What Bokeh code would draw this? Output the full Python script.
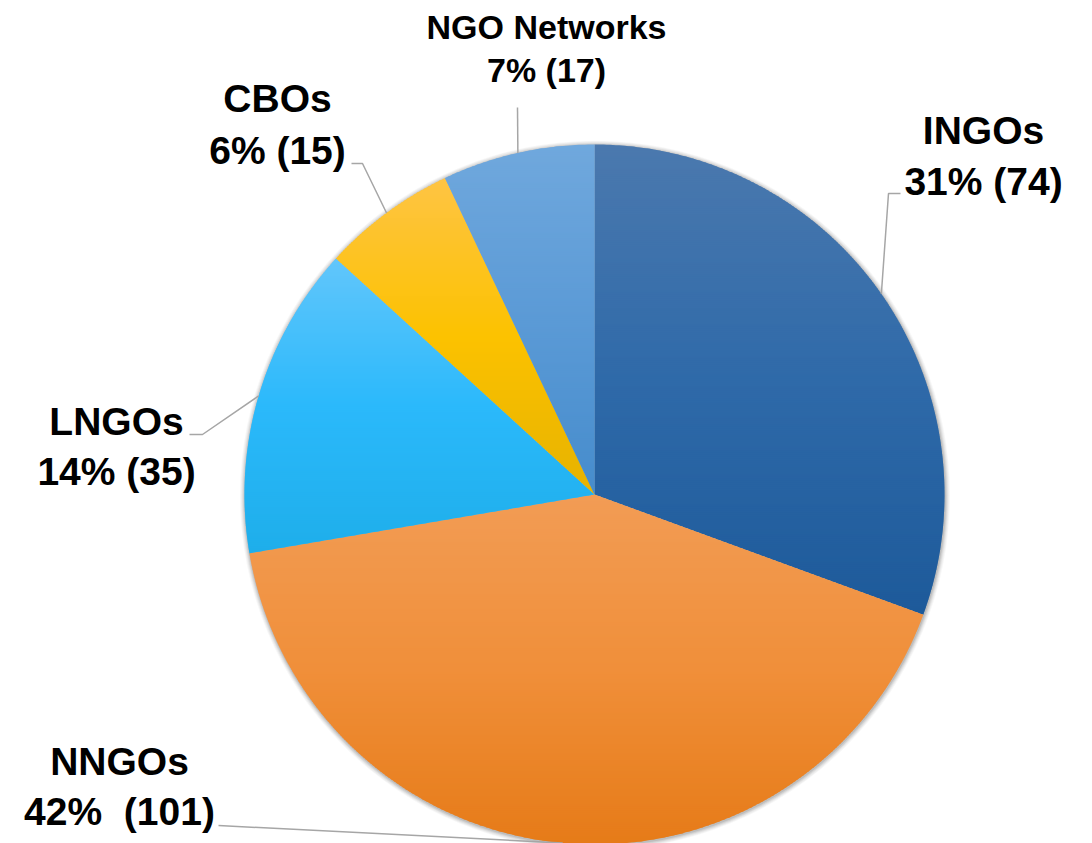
import numpy as np
from bokeh.plotting import figure
from bokeh.models import Range1d
from bokeh.core.properties import value
from bokeh.embed import file_html
from bokeh.resources import INLINE

# ---- data ----
categories = ["INGOs", "NNGOs", "LNGOs", "CBOs", "NGO Networks"]
counts = [74, 101, 35, 15, 17]
pct_gap = [" ", " \u00a0", " ", " ", " "]

# gradient colours per slice (top, middle, bottom)
top_colors = ["#4b79ae", "#f29c55", "#62c6fb", "#fec444", "#70a8dd"]
mid_colors = ["#2f6aa9", "#f08f3a", "#2bb9fb", "#fcc200", "#5b9ad6"]
bot_colors = ["#1d5a9a", "#e67b18", "#1eaeea", "#e6b200", "#468ccc"]

# ---- layout ----
W, H = 1092, 843
CX, CY, R = 594.0, 494.0, 350.0

label_x = [983, 119, 116, 277, 546]
label_y1 = [130, 761, 421, 98, 26]
label_y2 = [181, 811, 471, 150, 69]
label_size = ["39px", "39px", "39px", "39px", "34px"]
# leader line start / elbow points (label side)
leader_start = [(900, 193), (218, 825), (189, 434), (351, 163), (517, 107)]
leader_elbow = [(888, 193), None, (202, 434), (362, 163), None]

p = figure(width=W, height=H, x_range=Range1d(0, W), y_range=Range1d(H, 0),
           output_backend="svg", toolbar_location=None, min_border=0,
           x_axis_location=None, y_axis_location=None)
p.grid.visible = False
p.outline_line_color = None
p.background_fill_color = "white"
p.border_fill_color = "white"


def hex2rgb(h):
    h = h.lstrip("#")
    return np.array([int(h[i:i + 2], 16) for i in (0, 2, 4)], dtype=float)


def rgb2hex(c):
    c = np.clip(np.round(c), 0, 255).astype(int)
    return "#%02x%02x%02x" % tuple(c)


def clip_half(poly, y0, keep_greater):
    out = []
    n = len(poly)
    for i in range(n):
        a = poly[i]
        b = poly[(i + 1) % n]
        ina = a[1] >= y0 if keep_greater else a[1] <= y0
        inb = b[1] >= y0 if keep_greater else b[1] <= y0
        if ina:
            out.append(a)
        if ina != inb:
            t = (y0 - a[1]) / (b[1] - a[1])
            out.append((a[0] + t * (b[0] - a[0]), y0))
    return out


# shadow
for dr, al in [(5, 0.03), (4, 0.04), (3, 0.05), (2, 0.07), (1, 0.09)]:
    p.circle(x=[CX + 0.5], y=[CY + 1.0], radius=R + dr, fill_color="#000000",
             fill_alpha=al, line_color=None)

total = float(sum(counts))
cum = np.cumsum([0] + counts) / total * 2 * np.pi  # clockwise from 12 o'clock

xs_all, ys_all, col_all = [], [], []
mids = []
for i in range(len(counts)):
    a0, a1 = cum[i], cum[i + 1]
    mids.append((a0 + a1) / 2)
    n = max(8, int((a1 - a0) / (2 * np.pi) * 720))
    th = np.linspace(a0, a1, n)
    poly = [(CX, CY)] + [(CX + R * np.sin(t), CY - R * np.cos(t)) for t in th]
    ys = [q[1] for q in poly]
    ytop, ybot = min(ys), max(ys)
    ct, cm, cb = hex2rgb(top_colors[i]), hex2rgb(mid_colors[i]), hex2rgb(bot_colors[i])
    step = 2.0
    y = ytop
    while y < ybot:
        yb = min(y + step + 1.0, ybot)
        piece = clip_half(poly, y, True)
        piece = clip_half(piece, yb, False)
        if len(piece) >= 3:
            f = ((y + step / 2) - ytop) / (ybot - ytop)
            f = min(max(f, 0), 1)
            if f < 0.5:
                c = ct + (cm - ct) * (f / 0.5)
            else:
                c = cm + (cb - cm) * ((f - 0.5) / 0.5)
            xs_all.append([q[0] for q in piece])
            ys_all.append([q[1] for q in piece])
            col_all.append(rgb2hex(c))
        y += step

p.patches(xs=xs_all, ys=ys_all, fill_color=col_all, line_color=None)

# leader lines
for i in range(len(counts)):
    ex = CX + R * np.sin(mids[i])
    ey = CY - R * np.cos(mids[i])
    pts = [leader_start[i]]
    if leader_elbow[i] is not None:
        pts.append(leader_elbow[i])
    pts.append((ex, ey))
    p.line(x=[q[0] for q in pts], y=[q[1] for q in pts], line_color="#a6a6a6", line_width=1.5)

# labels
for i in range(len(counts)):
    pct = int(round(counts[i] / total * 100))
    line2 = "%d%%%s(%d)" % (pct, pct_gap[i], counts[i])
    for txt, yy in [(categories[i], label_y1[i]), (line2, label_y2[i])]:
        p.text(x=[label_x[i]], y=[yy], text=[txt], text_font=value("Liberation Sans"),
               text_font_style="bold", text_font_size=label_size[i], text_align="center",
               text_baseline="alphabetic", text_color="#000000")

open("out.html", "w").write(file_html(p, INLINE))
